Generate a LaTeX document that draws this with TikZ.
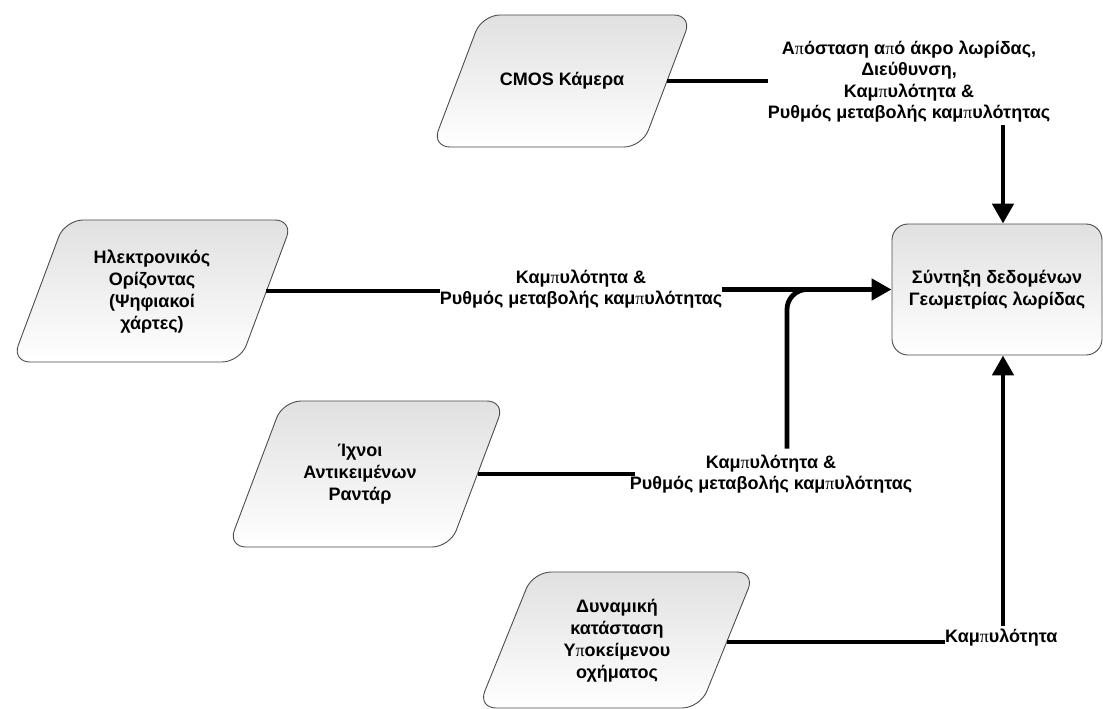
\documentclass[tikz,border=0pt]{standalone}
\usepackage{fontspec}
\setmainfont{Liberation Sans}
\newfontfamily\pifont{Liberation Serif}
\newcommand\gpi{{\pifont\mdseries π}}
\usetikzlibrary{arrows.meta,calc}
\tikzset{
  boxshade/.style={draw=black!70, line width=0.9pt, top color=black!12, bottom color=white, rounded corners=18pt},
  boxtext/.style={font=\fontsize{18}{22}\selectfont\bfseries, align=center},
  lbl/.style={font=\fontsize{18}{21.3}\selectfont\bfseries, align=center, inner sep=0pt},
  link/.style={line width=4.8pt},
  arr/.style={link, -{Triangle[length=20pt,width=21pt]}},
}
\begin{document}
\begin{tikzpicture}[x=1pt,y=-1pt]
\useasboundingbox (0,0) rectangle (1103,709);

% input sources (rounded parallelograms)
\draw[boxshade] (482,15) -- (692,15) -- (642,147) -- (432,147) -- cycle;
\node[boxtext] (cmos) at (562,81) {CMOS Κάμερα};
\coordinate (cmos-e) at (667,81);

\draw[boxshade] (65,220) -- (293,220) -- (240,362) -- (12,362) -- cycle;
\node[boxtext] (horizon) at (152,292) {Ηλεκτρονικός\\Ορίζοντας\\(Ψηφιακοί\\χάρτες)};
\coordinate (horizon-e) at (266,291);

\draw[boxshade] (283,401) -- (505,401) -- (450,547) -- (228,547) -- cycle;
\node[boxtext] (radar) at (360,474) {Ίχνοι\\Αντικειμένων\\Ραντάρ};
\coordinate (radar-e) at (478,474);

\draw[boxshade] (533,572) -- (755,572) -- (700,708) -- (478,708) -- cycle;
\node[boxtext] (dyn) at (617,641) {Δυναμική\\κατάσταση\\Υ\gpi οκείμενου\\οχήματος};
\coordinate (dyn-e) at (727,642);

% fusion block
\node[boxshade, rounded corners=16pt, boxtext, inner sep=0pt,
      minimum width=210pt, minimum height=131pt] (fusion) at (997,289.5)
      {Σύντηξη δεδομένων\\Γεωμετρίας λωρίδας};

% connector labels
\node[lbl] (lcmos) at (909,81.5) {Α\gpi όσταση α\gpi ό άκρο λωρίδας,\\Διεύθυνση,\\Καμ\gpi υλότητα \&\\Ρυθμός μεταβολής καμ\gpi υλότητας};
\node[lbl] (lhor) at (581,289) {Καμ\gpi υλότητα \&\\Ρυθμός μεταβολής καμ\gpi υλότητας};
\node[lbl] (lrad) at (771,474) {Καμ\gpi υλότητα \&\\Ρυθμός μεταβολής καμ\gpi υλότητας};
\node[lbl, anchor=base west] (ldyn) at (945,642) {Καμ\gpi υλότητα};

% helper columns
\coordinate (tx) at (1003,0);
\coordinate (bx) at (787,0);
\coordinate (merge) at (850,0);
\coordinate (rad-end) at (635,474);

% connectors
\draw[link] (cmos-e) -- (lcmos.west |- cmos-e);
\draw[arr] ($(lcmos.south -| tx)+(0,3)$) -- (fusion.north -| tx);

\draw[link] (horizon-e) -- (lhor.west |- horizon-e);
\draw[arr] (lhor.east |- fusion.west) -- (fusion.west);

\draw[link] (radar-e) -- (rad-end);
\draw[link, rounded corners=20pt] ($(lrad.north -| bx)+(0,-6)$) -- (bx |- fusion.west) -- (merge |- fusion.west);

\draw[link] (dyn-e) -- (ldyn.base west);
\draw[arr] ($(ldyn.north -| tx)+(0,-2)$) -- (fusion.south -| tx);
\end{tikzpicture}
\end{document}
